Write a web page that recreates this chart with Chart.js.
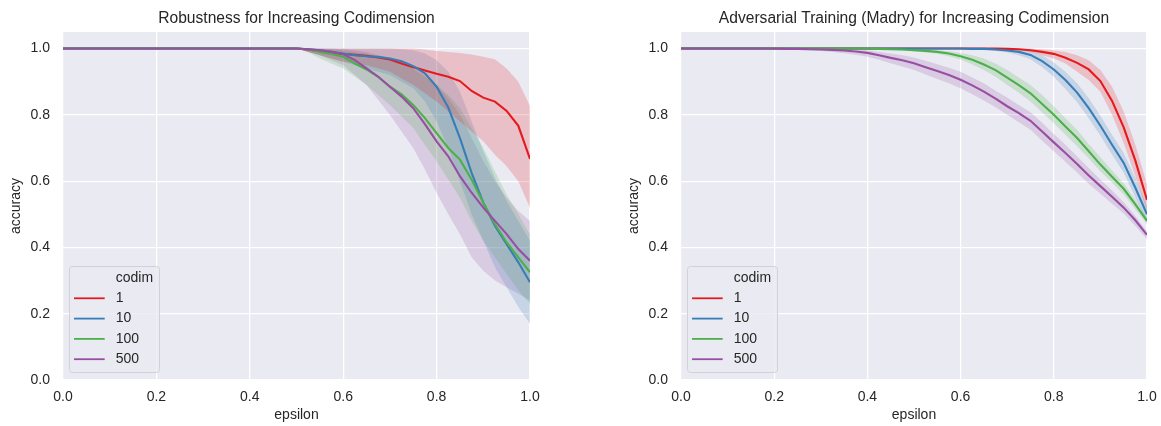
<!DOCTYPE html>
<html>
<head>
<meta charset="utf-8">
<script src="https://cdn.jsdelivr.net/npm/chart.js"></script>
<style>
  html, body { margin: 0; padding: 0; background: #ffffff; overflow: hidden; }
  #wrap { position: relative; width: 1161px; height: 426px; }
  canvas { position: absolute; top: 0; }
  #left { left: 0; }
  #right { left: 618px; }
</style>
</head>
<body>
<div id="wrap">
  <canvas id="left" width="560" height="426"></canvas>
  <canvas id="right" width="543" height="426"></canvas>
</div>
<script>
// epsilon grid shared by both panels
const epsilon = [0, 0.025, 0.05, 0.075, 0.1, 0.125, 0.15, 0.175, 0.2, 0.225, 0.25, 0.275, 0.3, 0.325, 0.35, 0.375, 0.4, 0.425, 0.45, 0.475, 0.5,
  0.525, 0.55, 0.575, 0.6, 0.625, 0.65, 0.675, 0.7, 0.725, 0.75, 0.775, 0.8, 0.825, 0.85, 0.875, 0.9, 0.925, 0.95, 0.975, 1.0];

const codimLabels = ['1', '10', '100', '500'];
const xTicks = [0, 0.2, 0.4, 0.6, 0.8, 1.0];
const yTicks = [0, 0.2, 0.4, 0.6, 0.8, 1.0];

// ---- Robustness (left panel): mean accuracy and confidence band per codim ----
const robMean1 = [1,1,1,1,1,1,1,1,1,1,1,1,1,1,1,1,1,1,1,1,1,
  0.997, 0.992, 0.988, 0.984, 0.981, 0.978, 0.973, 0.967, 0.955, 0.944, 0.934, 0.924, 0.915, 0.902, 0.872, 0.852, 0.840, 0.812, 0.767, 0.667];
const robHi1 = [1,1,1,1,1,1,1,1,1,1,1,1,1,1,1,1,1,1,1,1,1,
  1, 1, 1, 1, 1, 1, 1, 1, 1, 1, 0.997, 0.993, 0.99, 0.987, 0.982, 0.975, 0.968, 0.94, 0.90, 0.827];
const robLo1 = [1,1,1,1,1,1,1,1,1,1,1,1,1,1,1,1,1,1,1,1,1,
  0.99, 0.98, 0.97, 0.96, 0.955, 0.95, 0.94, 0.93, 0.91, 0.89, 0.865, 0.84, 0.81, 0.78, 0.75, 0.72, 0.68, 0.645, 0.60, 0.52];

const robMean10 = [1,1,1,1,1,1,1,1,1,1,1,1,1,1,1,1,1,1,1,1,1,
  0.998, 0.995, 0.99, 0.985, 0.98, 0.977, 0.975, 0.97, 0.962, 0.947, 0.925, 0.885, 0.822, 0.73, 0.625, 0.535, 0.465, 0.41, 0.355, 0.295];
const robHi10 = [1,1,1,1,1,1,1,1,1,1,1,1,1,1,1,1,1,1,1,1,1,
  1, 1, 1, 1, 1, 1, 1, 1, 0.998, 0.995, 0.985, 0.965, 0.93, 0.87, 0.78, 0.69, 0.61, 0.54, 0.48, 0.42];
const robLo10 = [1,1,1,1,1,1,1,1,1,1,1,1,1,1,1,1,1,1,1,1,1,
  0.99, 0.98, 0.97, 0.96, 0.95, 0.94, 0.93, 0.92, 0.90, 0.88, 0.84, 0.78, 0.70, 0.60, 0.50, 0.42, 0.34, 0.28, 0.22, 0.17];

const robMean100 = [1,1,1,1,1,1,1,1,1,1,1,1,1,1,1,1,1,1,1,1,1,
  0.997, 0.99, 0.984, 0.975, 0.955, 0.937, 0.915, 0.885, 0.862, 0.83, 0.79, 0.745, 0.70, 0.665, 0.605, 0.535, 0.47, 0.415, 0.37, 0.325];
const robHi100 = [1,1,1,1,1,1,1,1,1,1,1,1,1,1,1,1,1,1,1,1,1,
  1, 1, 0.998, 0.995, 0.99, 0.985, 0.975, 0.965, 0.955, 0.94, 0.92, 0.89, 0.86, 0.82, 0.76, 0.70, 0.63, 0.56, 0.50, 0.44];
const robLo100 = [1,1,1,1,1,1,1,1,1,1,1,1,1,1,1,1,1,1,1,1,1,
  0.99, 0.97, 0.955, 0.94, 0.915, 0.89, 0.86, 0.83, 0.795, 0.76, 0.71, 0.66, 0.605, 0.55, 0.48, 0.42, 0.37, 0.32, 0.27, 0.23];

const robMean500 = [1,1,1,1,1,1,1,1,1,1,1,1,1,1,1,1,1,1,1,1,1,
  0.998, 0.995, 0.99, 0.983, 0.965, 0.94, 0.915, 0.885, 0.855, 0.82, 0.772, 0.72, 0.675, 0.615, 0.565, 0.52, 0.48, 0.44, 0.395, 0.36];
const robHi500 = [1,1,1,1,1,1,1,1,1,1,1,1,1,1,1,1,1,1,1,1,1,
  1, 1, 1, 0.998, 0.995, 0.99, 0.98, 0.97, 0.955, 0.94, 0.915, 0.89, 0.85, 0.80, 0.73, 0.66, 0.60, 0.55, 0.51, 0.48];
const robLo500 = [1,1,1,1,1,1,1,1,1,1,1,1,1,1,1,1,1,1,1,1,1,
  0.99, 0.98, 0.965, 0.95, 0.92, 0.89, 0.845, 0.80, 0.75, 0.70, 0.635, 0.565, 0.50, 0.44, 0.37, 0.33, 0.30, 0.28, 0.26, 0.24];

// ---- Adversarial training (right panel) ----
const advMean1 = [1,1,1,1,1,1,1,1,1,1,1,1,1,1,1,1,1,1,1,1,1,1,1,1,1,1,1,1,
  0.999, 0.998, 0.995, 0.99, 0.984, 0.972, 0.957, 0.937, 0.902, 0.842, 0.762, 0.662, 0.543];
const advHi1 = [1,1,1,1,1,1,1,1,1,1,1,1,1,1,1,1,1,1,1,1,1,1,1,1,1,1,1,1,
  1, 1, 1, 0.998, 0.995, 0.99, 0.98, 0.965, 0.935, 0.885, 0.81, 0.71, 0.59];
const advLo1 = [1,1,1,1,1,1,1,1,1,1,1,1,1,1,1,1,1,1,1,1,1,1,1,1,1,1,1,1,
  0.997, 0.995, 0.99, 0.98, 0.97, 0.955, 0.93, 0.905, 0.87, 0.80, 0.715, 0.615, 0.51];

const advMean10 = [1,1,1,1,1,1,1,1,1,1,1,1,1,1,1,1,1,1,1,1,1,1,1,1,1,
  0.999, 0.999, 0.997, 0.994, 0.99, 0.981, 0.962, 0.937, 0.905, 0.867, 0.82, 0.767, 0.71, 0.655, 0.58, 0.50];
const advHi10 = [1,1,1,1,1,1,1,1,1,1,1,1,1,1,1,1,1,1,1,1,1,1,1,1,1,
  1, 1, 1, 0.999, 0.997, 0.992, 0.98, 0.958, 0.93, 0.895, 0.85, 0.797, 0.74, 0.685, 0.61, 0.525];
const advLo10 = [1,1,1,1,1,1,1,1,1,1,1,1,1,1,1,1,1,1,1,1,1,1,1,1,1,
  0.998, 0.997, 0.993, 0.988, 0.98, 0.968, 0.944, 0.915, 0.878, 0.838, 0.79, 0.737, 0.68, 0.625, 0.55, 0.475];

const advMean100 = [1,1,1,1,1,1,1,1,1,1,1,1,1,1,1,1,1,
  0.999, 0.998, 0.997, 0.995, 0.993, 0.99, 0.985, 0.977, 0.966, 0.952, 0.935, 0.912, 0.89, 0.865, 0.833, 0.8, 0.765, 0.73, 0.69, 0.65, 0.613, 0.577, 0.53, 0.48];
const advHi100 = [1,1,1,1,1,1,1,1,1,1,1,1,1,1,1,1,1,
  1, 1, 0.999, 0.998, 0.997, 0.995, 0.992, 0.987, 0.98, 0.97, 0.955, 0.935, 0.913, 0.89, 0.86, 0.826, 0.79, 0.755, 0.712, 0.672, 0.632, 0.594, 0.545, 0.49];
const advLo100 = [1,1,1,1,1,1,1,1,1,1,1,1,1,1,1,1,1,
  0.998, 0.996, 0.994, 0.992, 0.988, 0.984, 0.977, 0.967, 0.952, 0.935, 0.915, 0.89, 0.867, 0.84, 0.807, 0.775, 0.74, 0.705, 0.668, 0.63, 0.595, 0.56, 0.515, 0.47];

const advMean500 = [1,1,1,1,1,1,1,1,1,
  0.999, 0.999, 0.998, 0.997, 0.996, 0.994, 0.991, 0.987, 0.98, 0.972, 0.965, 0.956, 0.944, 0.932, 0.92, 0.906, 0.889, 0.87, 0.849, 0.826, 0.805, 0.782, 0.75, 0.717, 0.685, 0.652, 0.617, 0.585, 0.553, 0.52, 0.482, 0.438];
const advHi500 = [1,1,1,1,1,1,1,1,1,
  1, 1, 1, 0.999, 0.999, 0.998, 0.997, 0.995, 0.99, 0.985, 0.98, 0.973, 0.963, 0.953, 0.942, 0.93, 0.913, 0.895, 0.873, 0.852, 0.83, 0.808, 0.776, 0.742, 0.71, 0.675, 0.64, 0.605, 0.572, 0.536, 0.495, 0.448];
const advLo500 = [1,1,1,1,1,1,1,1,1,
  0.998, 0.997, 0.995, 0.993, 0.99, 0.986, 0.981, 0.975, 0.966, 0.956, 0.946, 0.935, 0.922, 0.908, 0.895, 0.88, 0.862, 0.843, 0.823, 0.8, 0.778, 0.755, 0.722, 0.69, 0.658, 0.626, 0.592, 0.562, 0.532, 0.502, 0.465, 0.425];

// Set1 palette
const colors = ['#e41a1c', '#377eb8', '#4daf4a', '#984ea3'];
const bandColors = ['rgba(228,26,28,0.2)', 'rgba(55,126,184,0.2)', 'rgba(77,175,74,0.2)', 'rgba(152,78,163,0.2)'];

const FONT = "'Liberation Sans', Arial, sans-serif";
const TEXT = '#262626';

const toPoints = arr => arr.map((v, i) => ({ x: epsilon[i], y: v }));

// Shaded plot area
const plotBackground = {
  id: 'plotBackground',
  beforeDraw(chart) {
    const { ctx, chartArea: a } = chart;
    ctx.save();
    ctx.fillStyle = '#EAEAF2';
    ctx.fillRect(a.left, a.top, a.right - a.left, a.bottom - a.top);
    ctx.restore();
  }
};

// Panel title centred over the plot area
const panelTitle = {
  id: 'panelTitle',
  afterDraw(chart, args, opts) {
    const { ctx, chartArea: a } = chart;
    ctx.save();
    ctx.font = '15.6px ' + FONT;
    ctx.fillStyle = TEXT;
    ctx.textAlign = 'center';
    ctx.textBaseline = 'alphabetic';
    ctx.fillText(opts.text, (a.left + a.right) / 2, a.top - 8.7);
    ctx.restore();
  }
};

// Boxed legend in the lower-left corner of the plot area
const codimLegend = {
  id: 'codimLegend',
  afterDatasetsDraw(chart) {
    const { ctx, chartArea: a } = chart;
    const x0 = a.left + 6.5, bottom = a.bottom - 7.5, w = 90, h = 106;
    const y0 = bottom - h;
    ctx.save();
    ctx.beginPath();
    ctx.roundRect(x0, y0, w, h, 3);
    ctx.fillStyle = 'rgba(234,234,242,0.8)';
    ctx.fill();
    ctx.lineWidth = 1;
    ctx.strokeStyle = 'rgb(210,210,214)';
    ctx.stroke();
    ctx.font = '14px ' + FONT;
    ctx.fillStyle = TEXT;
    ctx.textBaseline = 'middle';
    ctx.textAlign = 'left';
    const textX = a.left + 52.7;
    ctx.fillText('codim', textX, bottom - 94.2);
    codimLabels.forEach((lab, i) => {
      const cy = bottom - 74.2 + i * 20.3;
      ctx.beginPath();
      ctx.moveTo(a.left + 11, cy);
      ctx.lineTo(a.left + 41.7, cy);
      ctx.strokeStyle = colors[i];
      ctx.lineWidth = 1.8;
      ctx.stroke();
      ctx.fillText(lab, textX, cy);
    });
    ctx.restore();
  }
};

function buildDatasets(means, his, los) {
  const sets = [];
  means.forEach((m, i) => {
    sets.push({ label: codimLabels[i] + ' hi', data: toPoints(his[i]), borderColor: 'transparent', borderWidth: 0,
      backgroundColor: bandColors[i], fill: '+1', pointRadius: 0, order: 2 });
    sets.push({ label: codimLabels[i] + ' lo', data: toPoints(los[i]), borderColor: 'transparent', borderWidth: 0,
      fill: false, pointRadius: 0, order: 2 });
  });
  means.forEach((m, i) => {
    sets.push({ label: codimLabels[i], data: toPoints(m), borderColor: colors[i], borderWidth: 2.1,
      fill: false, pointRadius: 0, tension: 0, order: 1 - i * 0.1 });
  });
  return sets;
}

function makeChart(id, title, means, his, los, rightPad) {
  return new Chart(document.getElementById(id), {
    type: 'line',
    data: { datasets: buildDatasets(means, his, los) },
    plugins: [plotBackground, codimLegend, panelTitle],
    options: {
      responsive: false,
      animation: false,
      devicePixelRatio: 1,
      layout: { padding: { left: 0, right: rightPad, top: 32, bottom: 0 } },
      plugins: {
        legend: { display: false },
        tooltip: { enabled: false },
        title: { display: false },
        panelTitle: { text: title }
      },
      scales: {
        x: {
          type: 'linear', min: 0, max: 1,
          border: { display: false },
          grid: { color: '#ffffff', lineWidth: 1.25, drawTicks: false },
          ticks: { color: TEXT, font: { family: FONT, size: 14 }, padding: 9,
                   callback: v => v.toFixed(1), maxRotation: 0 },
          afterBuildTicks: s => { s.ticks = xTicks.map(v => ({ value: v })); },
          afterFit: s => { s.height = 46; s.paddingLeft = 0; s.paddingRight = 0; },
          title: { display: true, text: 'epsilon', color: TEXT,
                   font: { family: FONT, size: 14 }, padding: { top: 0, bottom: 2 } }
        },
        y: {
          type: 'linear', min: 0, max: 1.05,
          border: { display: false },
          grid: { color: '#ffffff', lineWidth: 1.25, drawTicks: false },
          ticks: { color: TEXT, font: { family: FONT, size: 14 }, padding: 13,
                   callback: v => v.toFixed(1) },
          afterBuildTicks: s => { s.ticks = yTicks.map(v => ({ value: v })); },
          afterFit: s => { s.width = 63; s.paddingTop = 0; s.paddingBottom = 0; },
          title: { display: true, text: 'accuracy', color: TEXT,
                   font: { family: FONT, size: 14 }, padding: { top: 7.5, bottom: 0 } }
        }
      }
    }
  });
}

makeChart('left', 'Robustness for Increasing Codimension',
  [robMean1, robMean10, robMean100, robMean500],
  [robHi1, robHi10, robHi100, robHi500],
  [robLo1, robLo10, robLo100, robLo500], 30);

makeChart('right', 'Adversarial Training (Madry) for Increasing Codimension',
  [advMean1, advMean10, advMean100, advMean500],
  [advHi1, advHi10, advHi100, advHi500],
  [advLo1, advLo10, advLo100, advLo500], 14);
</script>
</body>
</html>
